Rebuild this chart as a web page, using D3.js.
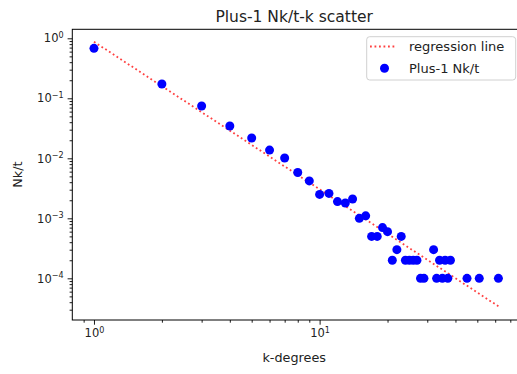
<!DOCTYPE html>
<html>
<head>
<meta charset="utf-8">
<script src="https://cdn.jsdelivr.net/npm/d3@7"></script>
<style>
  body { margin: 0; background: #fff; }
  svg { display: block; font-family: "DejaVu Sans", sans-serif; }
</style>
</head>
<body>
<div id="chart"></div>
<script>
// k-degree values and their Nk/t
const degrees = [1, 2, 3, 4, 5, 6, 7, 8, 9, 10, 11, 12, 13, 14, 15, 16, 17, 18, 19, 20,
    21, 22, 23, 24, 25, 26, 27, 28, 29, 32, 33, 34, 35, 36, 37, 38, 45, 51, 62];
const nkt = [0.68, 0.173, 0.0745, 0.0345, 0.0218, 0.0137, 0.0101, 0.0058, 0.0042, 0.0025,
    0.0026, 0.0019, 0.0018, 0.0021, 0.0010, 0.0011, 0.0005, 0.0005, 0.0007, 0.0006,
    0.0002, 0.0003, 0.0005, 0.0002, 0.0002, 0.0002, 0.0002, 0.0001, 0.0001, 0.0003,
    0.0001, 0.0002, 0.0001, 0.0002, 0.0001, 0.0002, 0.0001, 0.0001, 0.0001];

// regression line  y = a * k^b
const regIntercept = 0.877;
const regSlope = -2.46;
const regRange = [1, 62];

const xMajor = [1, 10];
const xMinor = [0.9, 2, 3, 4, 5, 6, 7, 8, 9, 20, 30, 40, 50, 60, 70];
const yMajor = [1, 1e-1, 1e-2, 1e-3, 1e-4];
const yMinor = [];
[1e-1, 1e-2, 1e-3, 1e-4, 1e-5].forEach(function (d) {
    for (let m = 2; m <= 9; m++) yMinor.push(d * m);
});

const width = 517, height = 374;
const plotLeft = 72.3, plotRight = 519, plotTop = 29.3, plotBottom = 320;

const svg = d3.select("#chart").append("svg")
    .attr("width", width)
    .attr("height", height);

const x = d3.scaleLog().domain([0.8016, 76.5]).range([plotLeft, plotRight]);
const y = d3.scaleLog().domain([2.02e-5, 1.413]).range([plotBottom, plotTop]);

const minus = "\u2212";
function powLabel(sel, d) {
    const e = Math.round(Math.log10(d));
    sel.text("");
    sel.append("tspan").text("10");
    sel.append("tspan")
        .attr("dy", "-0.5em")
        .attr("font-size", "0.7em")
        .text(e < 0 ? minus + Math.abs(e) : String(e));
}

function styleAxis(g) {
    g.select(".domain").remove();
    g.selectAll(".tick line").attr("stroke", "#000").attr("stroke-width", 0.9);
    g.selectAll(".tick text").attr("fill", "#222").attr("font-family", "DejaVu Sans").attr("font-size", 11.5);
}

// x axis
const gx = svg.append("g").attr("transform", "translate(0," + plotBottom + ")");
gx.call(d3.axisBottom(x).tickValues(xMajor).tickSize(4.7).tickPadding(4));
gx.selectAll(".tick text").each(function (d) { powLabel(d3.select(this), d); });
styleAxis(gx);
const gxm = svg.append("g").attr("transform", "translate(0," + plotBottom + ")");
gxm.call(d3.axisBottom(x).tickValues(xMinor).tickSize(2.7).tickFormat(""));
styleAxis(gxm);

// y axis
const gy = svg.append("g").attr("transform", "translate(" + plotLeft + ",0)");
gy.call(d3.axisLeft(y).tickValues(yMajor).tickSize(4.7).tickPadding(4));
gy.selectAll(".tick text").each(function (d) { powLabel(d3.select(this), d); });
styleAxis(gy);
const gym = svg.append("g").attr("transform", "translate(" + plotLeft + ",0)");
gym.call(d3.axisLeft(y).tickValues(yMinor.filter(function (d) {
    return d >= y.domain()[0] && d <= y.domain()[1];
})).tickSize(2.7).tickFormat(""));
styleAxis(gym);

// regression line
const line = d3.line()
    .x(function (d) { return x(d); })
    .y(function (d) { return y(regIntercept * Math.pow(d, regSlope)); });
svg.append("path")
    .datum(regRange)
    .attr("d", line)
    .attr("fill", "none")
    .attr("stroke", "#ff0000")
    .attr("stroke-opacity", 0.75)
    .attr("stroke-width", 1.8)
    .attr("stroke-dasharray", "1.8,2.7");

// scatter
svg.append("g").selectAll("circle")
    .data(degrees)
    .enter()
    .append("circle")
    .attr("cx", function (d) { return x(d); })
    .attr("cy", function (d, i) { return y(nkt[i]); })
    .attr("r", 4.5)
    .attr("fill", "#0000ff");

// spines
svg.append("rect")
    .attr("x", plotLeft)
    .attr("y", plotTop)
    .attr("width", plotRight - plotLeft)
    .attr("height", plotBottom - plotTop)
    .attr("fill", "none")
    .attr("stroke", "#000")
    .attr("stroke-width", 1);

// title and labels
svg.append("text")
    .attr("x", (plotLeft + 516) / 2)
    .attr("y", 22)
    .attr("text-anchor", "middle")
    .attr("font-size", 15.5)
    .attr("fill", "#222")
    .text("Plus-1 Nk/t-k scatter");

svg.append("text")
    .attr("x", (plotLeft + 516) / 2)
    .attr("y", 362)
    .attr("text-anchor", "middle")
    .attr("font-size", 12.8)
    .attr("fill", "#222")
    .text("k-degrees");

svg.append("text")
    .attr("transform", "translate(22," + (plotTop + plotBottom) / 2 + ") rotate(-90)")
    .attr("text-anchor", "middle")
    .attr("font-size", 12.8)
    .attr("fill", "#222")
    .text("Nk/t");

// legend
const legend = svg.append("g");
legend.append("rect")
    .attr("x", 366.7)
    .attr("y", 36.7)
    .attr("width", 149)
    .attr("height", 43.3)
    .attr("rx", 3)
    .attr("fill", "#fff")
    .attr("fill-opacity", 0.8)
    .attr("stroke", "#d0d0d0")
    .attr("stroke-width", 1);
legend.append("line")
    .attr("x1", 370).attr("x2", 397)
    .attr("y1", 46.5).attr("y2", 46.5)
    .attr("stroke", "#ff0000")
    .attr("stroke-opacity", 0.75)
    .attr("stroke-width", 1.8)
    .attr("stroke-dasharray", "1.8,2.7");
legend.append("circle")
    .attr("cx", 384.5).attr("cy", 68.3)
    .attr("r", 4.5)
    .attr("fill", "#0000ff");
legend.append("text")
    .attr("x", 409).attr("y", 51)
    .attr("font-size", 13)
    .attr("fill", "#222")
    .text("regression line");
legend.append("text")
    .attr("x", 409).attr("y", 73)
    .attr("font-size", 13)
    .attr("fill", "#222")
    .text("Plus-1 Nk/t");
</script>
</body>
</html>
